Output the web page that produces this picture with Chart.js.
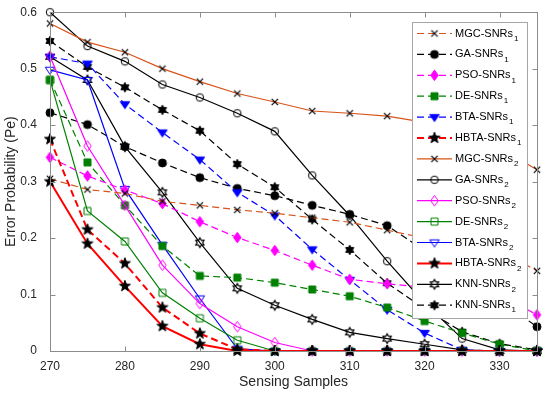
<!DOCTYPE html>
<html>
<head>
<meta charset="utf-8">
<script src="https://cdn.jsdelivr.net/npm/chart.js@4.4.1/dist/chart.umd.min.js"></script>
<style>
  html, body { margin: 0; padding: 0; background: #fff; }
  #wrap { width: 550px; height: 395px; }
</style>
</head>
<body>
<div id="wrap"><canvas id="myChart" width="550" height="395"></canvas></div>
<script>
// sensing samples on the x axis
const samples = [270, 275, 280, 285, 290, 295, 300, 305, 310, 315, 320, 325, 330, 335]
const xTicks = [270, 280, 290, 300, 310, 320, 330]
const yTicks = [0, 0.1, 0.2, 0.3, 0.4, 0.5, 0.6]
const yTickLabels = ['0', '0.1', '0.2', '0.3', '0.4', '0.5', '0.6']

// error probability per method
const mgc1 = [0.305, 0.286, 0.279, 0.265, 0.258, 0.250, 0.244, 0.236, 0.228, 0.214, 0.200, 0.190, 0.178, 0.142]
const ga1 = [0.422, 0.401, 0.362, 0.333, 0.307, 0.288, 0.275, 0.258, 0.242, 0.222, 0.178, 0.134, 0.090, 0.043]
const pso1 = [0.343, 0.310, 0.285, 0.261, 0.229, 0.201, 0.178, 0.152, 0.127, 0.119, 0.113, 0.108, 0.100, 0.064]
const de1 = [0.480, 0.334, 0.258, 0.186, 0.133, 0.130, 0.121, 0.109, 0.097, 0.077, 0.053, 0.032, 0.012, 0]
const bta1 = [0.521, 0.509, 0.437, 0.387, 0.339, 0.281, 0.240, 0.180, 0.126, 0.073, 0.032, 0.002, 0, 0]
const hbta1 = [0.375, 0.215, 0.155, 0.077, 0.031, 0.003, 0, 0, 0, 0, 0, 0, 0, 0]
const mgc2 = [0.580, 0.547, 0.529, 0.500, 0.477, 0.456, 0.441, 0.425, 0.421, 0.416, 0.405, 0.385, 0.360, 0.321]
const ga2 = [0.600, 0.540, 0.513, 0.472, 0.449, 0.421, 0.389, 0.311, 0.240, 0.159, 0.085, 0.022, 0.002, 0]
const pso2 = [0.522, 0.363, 0.258, 0.152, 0.084, 0.043, 0.015, 0, 0, 0, 0, 0, 0, 0]
const de2 = [0.480, 0.248, 0.194, 0.103, 0.058, 0.019, 0, 0, 0, 0, 0, 0, 0, 0]
const bta2 = [0.498, 0.480, 0.287, 0.188, 0.093, 0.004, 0, 0, 0, 0, 0, 0, 0, 0]
const hbta2 = [0.300, 0.190, 0.115, 0.044, 0.012, 0, 0, 0, 0, 0, 0, 0, 0, 0]
const knn2 = [0.521, 0.480, 0.362, 0.281, 0.192, 0.111, 0.081, 0.056, 0.033, 0.022, 0.012, 0.002, 0, 0]
const knn1 = [0.549, 0.503, 0.467, 0.427, 0.390, 0.331, 0.290, 0.233, 0.179, 0.120, 0.075, 0.034, 0.013, 0.002]

const ORANGE = '#d95319'
const GREEN = '#008000'
const FONT = '"Liberation Sans", Arial, sans-serif'

// marker images, MATLAB style
function marker(type, size, stroke, fill, lw) {
    const pad = 2
    const s = Math.ceil(size + pad * 2)
    const c = document.createElement('canvas')
    c.width = s
    c.height = s
    const g = c.getContext('2d')
    g.translate(s / 2, s / 2)
    const r = size / 2
    g.lineWidth = lw || 1
    g.strokeStyle = stroke
    g.beginPath()
    if (type === 'circle') {
        g.arc(0, 0, r, 0, Math.PI * 2)
    } else if (type === 'square') {
        g.rect(-r, -r, size, size)
    } else if (type === 'diamond') {
        g.moveTo(0, -r); g.lineTo(r * 0.72, 0); g.lineTo(0, r); g.lineTo(-r * 0.72, 0); g.closePath()
    } else if (type === 'tridown') {
        g.moveTo(-r, -r * 0.55); g.lineTo(r, -r * 0.55); g.lineTo(0, r * 0.95); g.closePath()
    } else if (type === 'star' || type === 'hex') {
        const n = type === 'star' ? 5 : 6
        const inner = type === 'star' ? 0.42 : 0.58
        for (let i = 0; i < n * 2; i++) {
            const a = -Math.PI / 2 + i * Math.PI / n
            const rr = i % 2 === 0 ? r : r * inner
            if (i === 0) g.moveTo(rr * Math.cos(a), rr * Math.sin(a))
            else g.lineTo(rr * Math.cos(a), rr * Math.sin(a))
        }
        g.closePath()
    } else if (type === 'x') {
        const q = r * 0.85
        g.moveTo(-q, -q); g.lineTo(q, q); g.moveTo(q, -q); g.lineTo(-q, q)
    }
    if (fill) { g.fillStyle = fill; g.fill() }
    g.stroke()
    return c
}

const series = [
    { label: 'MGC-SNRs', sub: '1', data: mgc1, color: ORANGE, dash: true, mk: marker('x', 7.5, '#000', null, 1.2) },
    { label: 'GA-SNRs', sub: '1', data: ga1, color: '#000', dash: true, mk: marker('circle', 8, '#000', '#000') },
    { label: 'PSO-SNRs', sub: '1', data: pso1, color: '#ff00ff', dash: true, mk: marker('diamond', 10.5, '#ff00ff', '#ff00ff') },
    { label: 'DE-SNRs', sub: '1', data: de1, color: GREEN, dash: true, mk: marker('square', 7, GREEN, GREEN) },
    { label: 'BTA-SNRs', sub: '1', data: bta1, color: '#0000ff', dash: true, mk: marker('tridown', 9.5, '#0000ff', '#0000ff') },
    { label: 'HBTA-SNRs', sub: '1', data: hbta1, color: '#ff0000', dash: true, width: 2, mk: marker('star', 11.5, '#000', '#000') },
    { label: 'MGC-SNRs', sub: '2', data: mgc2, color: ORANGE, dash: false, mk: marker('x', 7.5, '#000', null, 1.2) },
    { label: 'GA-SNRs', sub: '2', data: ga2, color: '#000', dash: false, mk: marker('circle', 7.5, '#000', null) },
    { label: 'PSO-SNRs', sub: '2', data: pso2, color: '#ff00ff', dash: false, mk: marker('diamond', 10.5, '#ff00ff', null) },
    { label: 'DE-SNRs', sub: '2', data: de2, color: GREEN, dash: false, mk: marker('square', 7, GREEN, null) },
    { label: 'BTA-SNRs', sub: '2', data: bta2, color: '#0000ff', dash: false, mk: marker('tridown', 9.5, '#0000ff', null) },
    { label: 'HBTA-SNRs', sub: '2', data: hbta2, color: '#ff0000', dash: false, width: 2, mk: marker('star', 11.5, '#000', '#000') },
    { label: 'KNN-SNRs', sub: '2', data: knn2, color: '#000', dash: false, mk: marker('hex', 9.5, '#000', null, 1.2) },
    { label: 'KNN-SNRs', sub: '1', data: knn1, color: '#000', dash: true, mk: marker('hex', 9.5, '#000', '#000') }
]

const DASH = [7, 4]

// draw order: first dataset ends on top, so put HBTA first
const drawOrder = [11, 5, 0, 6, 2, 8, 3, 9, 4, 10, 1, 7, 12, 13]

const datasets = drawOrder.map((i) => {
    const s = series[i]
    return {
        label: s.label + s.sub,
        data: samples.map((x, k) => ({ x: x, y: s.data[k] })),
        borderColor: s.color,
        borderWidth: s.width || 1.2,
        borderDash: s.dash ? DASH : [],
        pointStyle: s.mk,
        pointRadius: 5,
        fill: false,
        tension: 0,
        clip: false
    }
})

// box, inward ticks and the legend
const matlabAxes = {
    id: 'matlabAxes',
    afterDraw(chart) {
        const ctx = chart.ctx
        const a = chart.chartArea
        const xs = chart.scales.x
        const ys = chart.scales.y
        ctx.save()
        ctx.strokeStyle = '#8c8c8c'
        ctx.lineWidth = 1
        ctx.setLineDash([])
        const L = Math.round(a.left) + 0.5
        const R = Math.round(a.right) + 0.5
        const T = Math.round(a.top) + 0.5
        const B = Math.round(a.bottom) + 0.5
        ctx.strokeRect(L, T, R - L, B - T)
        ctx.beginPath()
        xTicks.forEach((v) => {
            const px = Math.round(xs.getPixelForValue(v)) + 0.5
            ctx.moveTo(px, B); ctx.lineTo(px, B - 5)
            ctx.moveTo(px, T); ctx.lineTo(px, T + 5)
        })
        yTicks.forEach((v) => {
            const py = Math.round(ys.getPixelForValue(v)) + 0.5
            ctx.moveTo(L, py); ctx.lineTo(L + 5, py)
            ctx.moveTo(R, py); ctx.lineTo(R - 5, py)
        })
        ctx.stroke()

        // legend
        const lx = 412.5, ly = 22.5, lw = 115, lh = 296
        ctx.fillStyle = '#fff'
        ctx.fillRect(lx, ly, lw, lh)
        ctx.strokeStyle = '#a6a6a6'
        ctx.strokeRect(lx, ly, lw, lh)
        series.forEach((s, i) => {
            const cy = 33.5 + i * 20.9
            ctx.strokeStyle = s.color
            ctx.lineWidth = s.width || 1.2
            ctx.setLineDash(s.dash ? DASH : [])
            ctx.beginPath()
            ctx.moveTo(417, cy); ctx.lineTo(452, cy)
            ctx.stroke()
            ctx.drawImage(s.mk, 434.5 - s.mk.width / 2, cy - s.mk.height / 2)
            ctx.fillStyle = '#000'
            ctx.textBaseline = 'middle'
            ctx.font = '11px ' + FONT
            ctx.fillText(s.label, 455, cy)
            const w = ctx.measureText(s.label).width
            ctx.font = '8px ' + FONT
            ctx.fillText(s.sub, 455 + w + 1, cy + 5)
        })
        ctx.restore()
    }
}

const config = {
    type: 'line',
    data: { datasets: datasets },
    options: {
        responsive: false,
        devicePixelRatio: 1,
        animation: false,
        layout: { padding: { top: 12, right: 13, left: 0, bottom: 0 } },
        plugins: { legend: { display: false }, tooltip: { enabled: false } },
        scales: {
            x: {
                type: 'linear',
                min: 270,
                max: 335,
                grid: { display: false },
                border: { display: false },
                afterBuildTicks: (scale) => { scale.ticks = xTicks.map((v) => ({ value: v })) },
                afterFit: (scale) => { scale.height = 44 },
                ticks: {
                    color: '#262626',
                    padding: 0,
                    maxRotation: 0,
                    font: { family: FONT, size: 12 },
                    callback: (v) => String(v)
                },
                title: {
                    display: true,
                    text: 'Sensing Samples',
                    color: '#262626',
                    padding: { top: 2, bottom: 4 },
                    font: { family: FONT, size: 14 }
                }
            },
            y: {
                min: 0,
                max: 0.6,
                grid: { display: false },
                border: { display: false },
                afterBuildTicks: (scale) => { scale.ticks = yTicks.map((v) => ({ value: v })) },
                afterFit: (scale) => { scale.width = 50 },
                ticks: {
                    color: '#262626',
                    padding: 5,
                    font: { family: FONT, size: 12 },
                    callback: (v) => yTickLabels[yTicks.indexOf(v)] ?? v
                },
                title: {
                    display: true,
                    text: 'Error Probability (Pe)',
                    color: '#262626',
                    padding: { top: 3, bottom: 4 },
                    font: { family: FONT, size: 14 }
                }
            }
        }
    },
    plugins: [matlabAxes]
}

const chart = new Chart(document.querySelector('#myChart'), config)
</script>
</body>
</html>
